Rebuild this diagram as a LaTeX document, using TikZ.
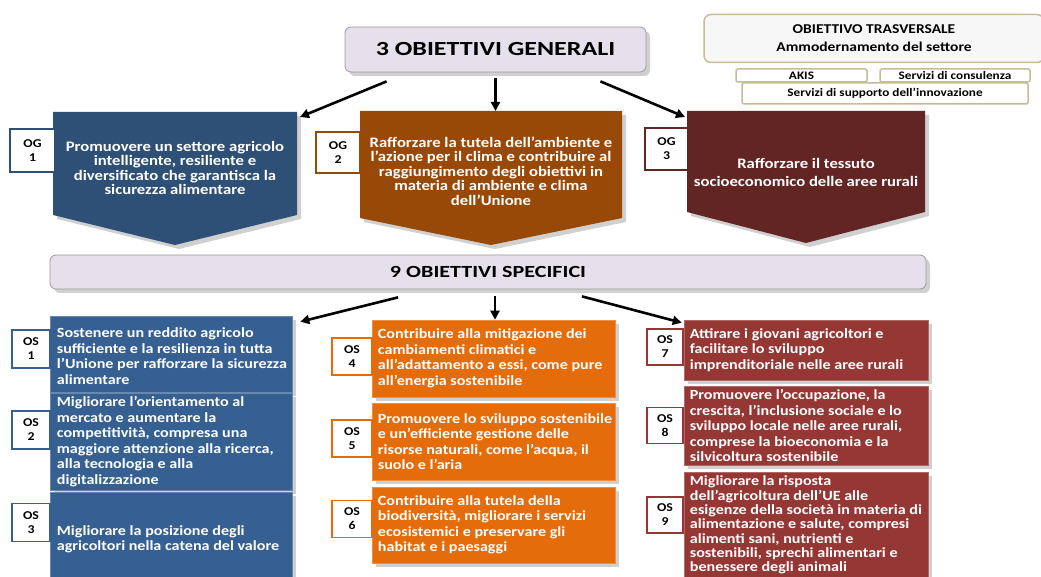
\documentclass[tikz,border=0pt]{standalone}
\usepackage{fontspec}
\setmainfont{Carlito}[FakeStretch=1.15]
\newfontfamily\titlefont{Carlito}[FakeStretch=1.3]
\usetikzlibrary{arrows.meta,shadows}

\definecolor{lavanda}{HTML}{E5E0EC}
\definecolor{bordogrigio}{HTML}{9A9A9A}
\definecolor{sabbia}{HTML}{C4BD97}
\definecolor{blunotte}{HTML}{2E5077}
\definecolor{marrone}{HTML}{984807}
\definecolor{bordeaux}{HTML}{632523}
\definecolor{blu}{HTML}{376092}
\definecolor{arancio}{HTML}{E46C0A}
\definecolor{rosso}{HTML}{953735}

\tikzset{
  freccia/.style={line width=2.6pt, -{Triangle[length=9pt,width=9pt]}},
  ombra/.style={drop shadow={shadow xshift=4pt, shadow yshift=-4pt, opacity=0.3, fill=black!60}},
  intesta/.style={draw=bordogrigio, fill=lavanda, rounded corners=6pt, line width=0.8pt, inner sep=0pt, ombra},
  trasv/.style={draw=sabbia, fill=black!3, rounded corners=7pt, line width=1.5pt, inner sep=0pt, align=center,
    font=\fontsize{13.5}{18}\selectfont\bfseries},
  strum/.style={draw=sabbia, fill=white, rounded corners=2pt, line width=1.5pt, inner sep=0pt,
    font=\fontsize{11.5}{12}\selectfont\bfseries},
  sigla/.style={draw=#1, fill=white, line width=1.3pt, inner sep=0pt, align=center,
    font=\fontsize{12}{14}\selectfont\bfseries},
  ogtesto/.style={text=white, align=center, inner sep=0pt, font=\fontsize{14.5}{14.5}\selectfont\bfseries},
  osbox/.style={fill=#1, draw=#1!75!white, line width=0.6pt, inner sep=0pt, ombra},
  ostesto/.style={text=white, align=left, anchor=west, inner sep=0pt, font=\fontsize{14}{15.5}\selectfont\bfseries},
}

\begin{document}
\begin{tikzpicture}[x=1pt, y=-1pt]
  \fill[white] (0,0) rectangle (1041,577);
  \useasboundingbox (0,0) rectangle (1041,577);

  % titolo e obiettivo trasversale
  \node[intesta, minimum width=301pt, minimum height=45pt,
    font=\titlefont\bfseries\fontsize{20}{20}\selectfont] (tit) at (495.5,49.5) {3 OBIETTIVI GENERALI};
  \node[trasv, minimum width=340pt, minimum height=48pt] (ot) at (874,38.5)
    {OBIETTIVO TRASVERSALE\\Ammodernamento del settore};
  \node[strum, minimum width=131pt, minimum height=13pt] (akis) at (801.5,75.5) {AKIS};
  \node[strum, minimum width=150pt, minimum height=13pt] (cons) at (955,75.5) {Servizi di consulenza};
  \node[strum, minimum width=286pt, minimum height=21pt] (supp) at (885,93.5) {Servizi di supporto dell'innovazione};

  % obiettivi generali (frecce a punta)
  \fill[blunotte, ombra] (53,112) coordinate (og1nw) -- (297,112) coordinate (og1ne)
    -- (297,215) -- (175,245) -- (53,215) -- cycle;
  \fill[marrone, ombra] (360,111) coordinate (og2nw) -- (622,111) coordinate (og2ne)
    -- (622,218) -- (491,245) -- (360,218) -- cycle;
  \fill[bordeaux, ombra] (687,111) coordinate (og3nw) -- (925,111) coordinate (og3ne)
    -- (925,212) -- (806,243) -- (687,212) -- cycle;

  \node[ogtesto] (og1) at (175,168) {Promuovere un settore agricolo\\intelligente, resiliente e\\
    diversificato che garantisca la\\sicurezza alimentare};
  \node[ogtesto] (og2) at (491,171) {Rafforzare la tutela dell'ambiente e\\l'azione per il clima e contribuire al\\
    raggiungimento degli obiettivi in\\materia di ambiente e clima\\dell'Unione};
  \node[ogtesto] (og3) at (806,172) {Rafforzare il tessuto\\[3.5pt]socioeconomico delle aree rurali};

  \node[sigla=blunotte, minimum width=45pt, minimum height=43pt] (og1sig) at (32.5,150.5) {OG\\1};
  \node[sigla=marrone, minimum width=44pt, minimum height=41pt] (og2sig) at (338,152.5) {OG\\2};
  \node[sigla=bordeaux, minimum width=43pt, minimum height=42pt] (og3sig) at (666.5,149) {OG\\3};

  % frecce verso gli obiettivi generali
  \draw[freccia] ([xshift=42pt,yshift=-9pt]tit.south west) -- ([xshift=3pt,yshift=-5pt]og1ne);
  \draw[freccia] (tit.south) ++(0,6) -- (tit.south |- og2nw);
  \draw[freccia] ([xshift=-46pt,yshift=-9pt]tit.south east) -- ([xshift=-2pt,yshift=-6pt]og3nw);

  % barra degli obiettivi specifici
  \node[intesta, minimum width=876pt, minimum height=34pt,
    font=\titlefont\bfseries\fontsize{17}{17}\selectfont] (barra) at (488,272) {9 OBIETTIVI SPECIFICI};

  % colonna blu: OS 1-3
  \node[osbox=blu, minimum width=242pt, minimum height=76pt] (os1box) at (171,354) {};
  \node[osbox=blu, minimum width=242pt, minimum height=97pt] (os2box) at (171,441.5) {};
  \node[osbox=blu, minimum width=242pt, minimum height=85pt] (os3box) at (171,534.5) {};
  \node[ostesto] (os1) at ([xshift=7pt,yshift=-2pt]os1box.west) {Sostenere un reddito agricolo\\
    sufficiente e la resilienza in tutta\\l'Unione per rafforzare la sicurezza\\alimentare};
  \node[ostesto] (os2) at ([xshift=7pt]os2box.west) {Migliorare l'orientamento al\\mercato e aumentare la\\
    competitività, compresa una\\maggiore attenzione alla ricerca,\\alla tecnologia e alla\\digitalizzazione};
  \node[ostesto] (os3) at ([xshift=7pt,yshift=-5pt]os3box.west) {Migliorare la posizione degli\\
    agricoltori nella catena del valore};
  \node[sigla=blu, minimum width=38pt, minimum height=38pt] (os1sig) at (31,349) {OS\\1};
  \node[sigla=blu, minimum width=38pt, minimum height=38pt] (os2sig) at (31,430) {OS\\2};
  \node[sigla=blu, minimum width=38pt, minimum height=38pt] (os3sig) at (31,522.5) {OS\\3};

  % colonna arancio: OS 4-6
  \node[osbox=arancio, minimum width=243pt, minimum height=77pt] (os4box) at (493.5,358.5) {};
  \node[osbox=arancio, minimum width=243pt, minimum height=77pt] (os5box) at (493.5,441.5) {};
  \node[osbox=arancio, minimum width=243pt, minimum height=76pt] (os6box) at (493.5,525) {};
  \node[ostesto] (os4) at ([xshift=6pt]os4box.west) {Contribuire alla mitigazione dei\\cambiamenti climatici e\\
    all'adattamento a essi, come pure\\all'energia sostenibile};
  \node[ostesto] (os5) at ([xshift=6pt]os5box.west) {Promuovere lo sviluppo sostenibile\\
    e un'efficiente gestione delle\\risorse naturali, come l'acqua, il\\suolo e l'aria};
  \node[ostesto] (os6) at ([xshift=6pt]os6box.west) {Contribuire alla tutela della\\
    biodiversità, migliorare i servizi\\ecosistemici e preservare gli\\habitat e i paesaggi};
  \node[sigla=arancio, minimum width=40pt, minimum height=37pt] (os4sig) at (352,356.5) {OS\\4};
  \node[sigla=arancio, minimum width=40pt, minimum height=37pt] (os5sig) at (352,438.5) {OS\\5};
  \node[sigla=arancio, minimum width=40pt, minimum height=37pt] (os6sig) at (352,519) {OS\\6};

  % colonna rossa: OS 7-9
  \node[osbox=rosso, minimum width=244pt, minimum height=60pt] (os7box) at (806,350) {};
  \node[osbox=rosso, minimum width=244pt, minimum height=79pt] (os8box) at (806,425.5) {};
  \node[osbox=rosso, minimum width=244pt, minimum height=108pt] (os9box) at (806,526) {};
  \node[ostesto] (os7) at ([xshift=6pt]os7box.west) {Attirare i giovani agricoltori e\\
    facilitare lo sviluppo\\imprenditoriale nelle aree rurali};
  \node[ostesto] (os8) at ([xshift=6pt]os8box.west) {Promuovere l'occupazione, la\\
    crescita, l'inclusione sociale e lo\\sviluppo locale nelle aree rurali,\\
    comprese la bioeconomia e la\\silvicoltura sostenibile};
  \node[ostesto, font=\fontsize{14}{14.3}\selectfont\bfseries] (os9) at ([xshift=6pt,yshift=1pt]os9box.west)
    {Migliorare la risposta\\
    dell'agricoltura dell'UE alle\\esigenze della società in materia di\\
    alimentazione e salute, compresi\\alimenti sani, nutrienti e\\
    sostenibili, sprechi alimentari e\\benessere degli animali};
  \node[sigla=rosso, minimum width=36pt, minimum height=36pt] (os7sig) at (665,347) {OS\\7};
  \node[sigla=rosso, minimum width=36pt, minimum height=36pt] (os8sig) at (665,425.5) {OS\\8};
  \node[sigla=rosso, minimum width=36pt, minimum height=36pt] (os9sig) at (665,515) {OS\\9};

  % frecce verso gli obiettivi specifici
  \draw[freccia] ([xshift=-90pt,yshift=-8pt]barra.south) -- ([xshift=8pt,yshift=-6pt]os1box.north east);
  \draw[freccia] ([xshift=7pt]barra.south) ++(0,7) -- ([xshift=7pt]barra.south |- os4box.north);
  \draw[freccia] ([xshift=94pt,yshift=-7pt]barra.south) -- ([xshift=-2pt,yshift=-3pt]os7box.north west);
\end{tikzpicture}
\end{document}
